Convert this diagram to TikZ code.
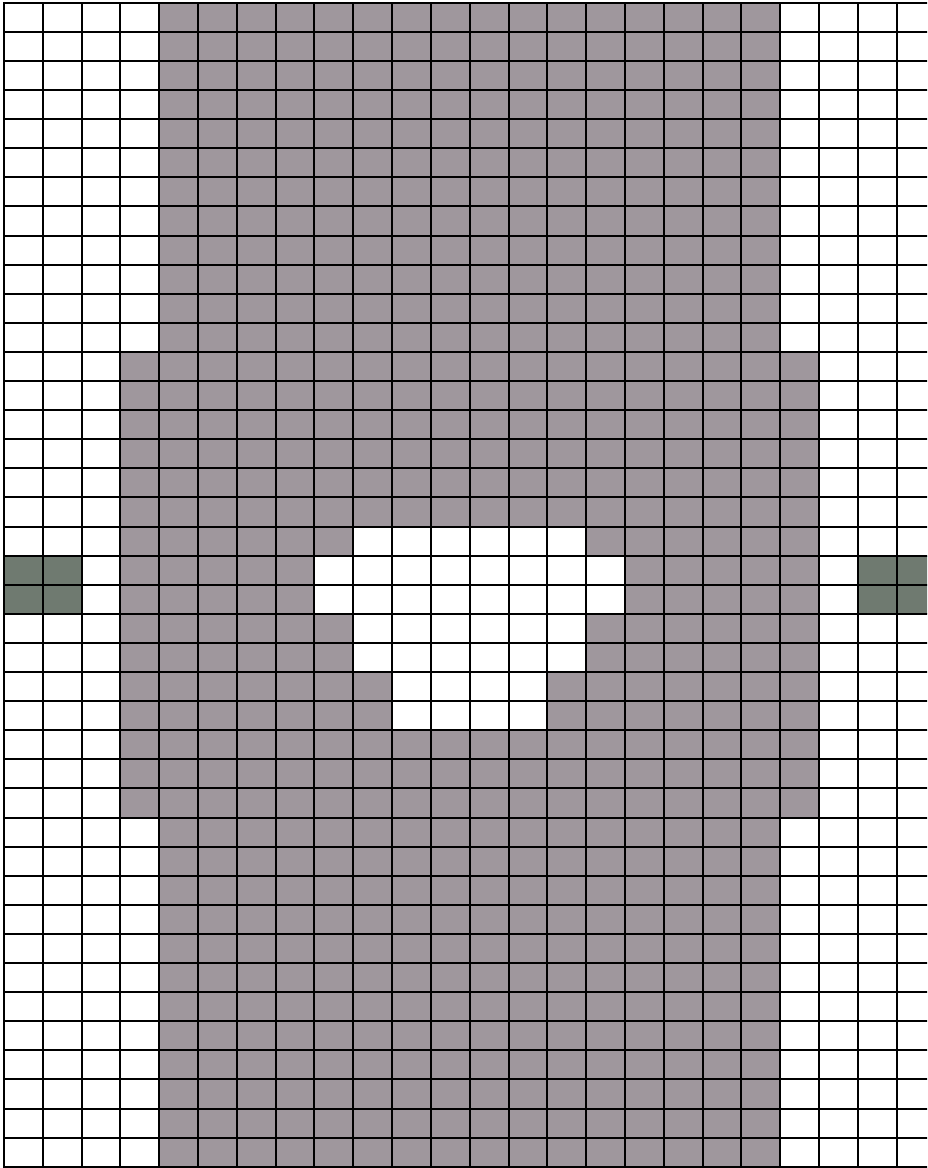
\documentclass[tikz,border=0pt]{standalone}
\definecolor{mauvegray}{HTML}{9F979D}
\definecolor{darkgreen}{HTML}{6F7A70}
\tikzset{
  shade/.style={fill=mauvegray},
  hole/.style={fill=white},
  marker/.style={fill=darkgreen},
  gridline/.style={draw=black,line width=2pt,line cap=rect}
}
\def\cw{38.81}
\def\ch{29.1}
\newcommand\cellblock[5]{\path[#1] ({4+\cw*#2},{2.7+\ch*#3}) rectangle ({4+\cw*(#4+1)},{2.7+\ch*(#5+1)});}
\begin{document}
\begin{tikzpicture}[x=1pt,y=-1pt]
\useasboundingbox (0,0) rectangle (927,1168);
\clip (0,0) rectangle (927,1168);
\fill[white] (0,0) rectangle (927,1168);
% grey body
\cellblock{shade}{4}{0}{19}{39}
\cellblock{shade}{3}{12}{20}{27}
% white hole
\cellblock{hole}{9}{18}{14}{22}
\cellblock{hole}{8}{19}{15}{20}
\cellblock{hole}{10}{23}{13}{24}
% dark markers
\cellblock{marker}{0}{19}{1}{20}
\cellblock{marker}{22}{19}{23}{20}
% grid
\foreach \k in {0,...,23} \draw[gridline] ({4+\cw*\k},2.7) -- ({4+\cw*\k},{2.7+40*\ch});
\foreach \r in {0,...,40} \draw[gridline] (4,{2.7+\ch*\r}) -- (927,{2.7+\ch*\r});
\end{tikzpicture}
\end{document}
